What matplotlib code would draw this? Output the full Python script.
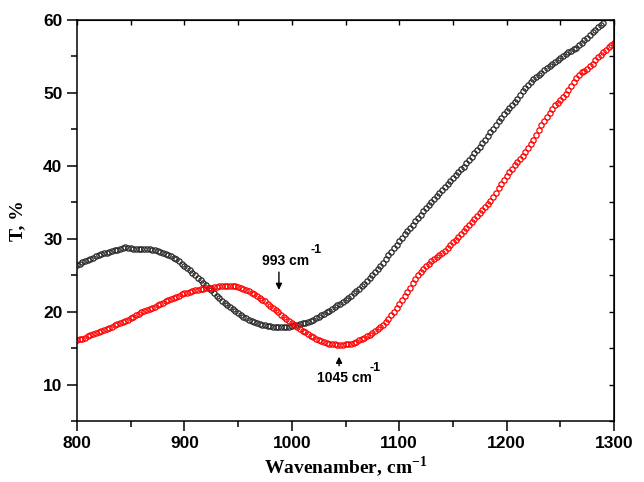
import numpy as np
import matplotlib
matplotlib.use('Agg')
import matplotlib.pyplot as plt
from matplotlib.ticker import MultipleLocator

plt.rcParams['font.family'] = 'Liberation Sans'
plt.rcParams['font.weight'] = 'bold'
plt.rcParams['mathtext.fontset'] = 'custom'
plt.rcParams['mathtext.bf'] = 'Liberation Serif:bold'
plt.rcParams['mathtext.rm'] = 'Liberation Serif:bold'

# black sample, 800-1290 step 2.5 (rows of 25 cm-1)
wn_black = np.arange(800, 1290.1, 2.5)
t_black = [26.4, 26.6, 26.8, 26.95, 27.1, 27.25, 27.4, 27.6, 27.8, 27.9,
           28.0, 28.1, 28.2, 28.3, 28.4, 28.5, 28.6, 28.7, 28.8, 28.75,
           28.7, 28.65, 28.6, 28.6, 28.6, 28.6, 28.6, 28.55, 28.5, 28.4,
           28.3, 28.2, 28.1, 27.95, 27.8, 27.6, 27.4, 27.15, 26.9, 26.6,
           26.3, 26.0, 25.7, 25.35, 25.0, 24.65, 24.3, 23.95, 23.6, 23.25,
           22.9, 22.55, 22.2, 21.85, 21.5, 21.2, 20.9, 20.6, 20.3, 20.05,
           19.8, 19.55, 19.3, 19.1, 18.9, 18.75, 18.6, 18.45, 18.3, 18.2,
           18.1, 18.05, 18.0, 17.95, 17.9, 17.9, 17.9, 17.9, 17.95, 17.95,
           18.0, 18.1, 18.2, 18.3, 18.4, 18.5, 18.6, 18.75, 18.9, 19.1,
           19.3, 19.5, 19.7, 19.9, 20.1, 20.35, 20.6, 20.85, 21.1, 21.35,
           21.6, 21.9, 22.2, 22.5, 22.8, 23.15, 23.5, 23.85, 24.2, 24.6,
           25.0, 25.4, 25.8, 26.25, 26.7, 27.2, 27.7, 28.2, 28.7, 29.2,
           29.7, 30.15, 30.6, 31.05, 31.5, 31.95, 32.4, 32.85, 33.3, 33.75,
           34.2, 34.65, 35.1, 35.5, 35.9, 36.3, 36.7, 37.1, 37.5, 37.9,
           38.3, 38.7, 39.1, 39.5, 39.9, 40.35, 40.8, 41.25, 41.7, 42.15,
           42.6, 43.1, 43.6, 44.1, 44.6, 45.1, 45.6, 46.1, 46.6, 47.05,
           47.5, 47.9, 48.3, 48.75, 49.2, 49.7, 50.2, 50.65, 51.1, 51.5,
           51.9, 52.15, 52.4, 52.75, 53.1, 53.4, 53.7, 53.95, 54.2, 54.5,
           54.8, 55.1, 55.4, 55.6, 55.8, 56.0, 56.2, 56.55, 56.9, 57.2,
           57.5, 57.9, 58.3, 58.65, 59.0, 59.3, 59.6]

# red sample, 800-1300 step 2.5
wn_red = np.arange(800, 1300.1, 2.5)
t_red = [16.1, 16.2, 16.3, 16.45, 16.6, 16.75, 16.9, 17.05, 17.2, 17.35,
         17.5, 17.65, 17.8, 17.95, 18.1, 18.25, 18.4, 18.55, 18.7, 18.9,
         19.1, 19.3, 19.5, 19.7, 19.9, 20.05, 20.2, 20.35, 20.5, 20.7,
         20.9, 21.05, 21.2, 21.4, 21.6, 21.75, 21.9, 22.05, 22.2, 22.35,
         22.5, 22.6, 22.7, 22.8, 22.9, 23.0, 23.1, 23.15, 23.2, 23.25,
         23.3, 23.35, 23.4, 23.45, 23.5, 23.5, 23.5, 23.5, 23.5, 23.45,
         23.4, 23.25, 23.1, 22.95, 22.8, 22.6, 22.4, 22.15, 21.9, 21.65,
         21.4, 21.1, 20.8, 20.5, 20.2, 19.9, 19.6, 19.3, 19.0, 18.7,
         18.4, 18.15, 17.9, 17.65, 17.4, 17.15, 16.9, 16.7, 16.5, 16.3,
         16.1, 15.95, 15.8, 15.7, 15.6, 15.55, 15.5, 15.45, 15.4, 15.45,
         15.5, 15.55, 15.6, 15.75, 15.9, 16.05, 16.2, 16.4, 16.6, 16.85,
         17.1, 17.35, 17.6, 17.9, 18.2, 18.6, 19.0, 19.5, 20.0, 20.5,
         21.0, 21.55, 22.1, 22.7, 23.3, 23.9, 24.5, 25.0, 25.5, 25.9,
         26.3, 26.6, 26.9, 27.2, 27.5, 27.75, 28.0, 28.35, 28.7, 29.1,
         29.5, 29.85, 30.2, 30.6, 31.0, 31.45, 31.9, 32.3, 32.7, 33.1,
         33.5, 33.9, 34.3, 34.75, 35.2, 35.75, 36.3, 36.9, 37.5, 38.05,
         38.6, 39.1, 39.6, 40.05, 40.5, 40.9, 41.3, 41.85, 42.4, 43.0,
         43.6, 44.25, 44.9, 45.55, 46.2, 46.75, 47.3, 47.8, 48.3, 48.65,
         49.0, 49.45, 49.9, 50.45, 51.0, 51.5, 52.0, 52.4, 52.8, 53.05,
         53.3, 53.65, 54.0, 54.45, 54.9, 55.25, 55.6, 55.95, 56.3, 56.55,
         56.8]

fig = plt.figure(figsize=(6.44, 4.82), dpi=100)
ax = fig.add_axes([0.1196, 0.1266, 0.8338, 0.8319])

ax.plot(wn_black, t_black, 'o', ms=3.8, mfc='none', mec='#2a2a2a', mew=0.9)
ax.plot(wn_red, t_red, 'o', ms=3.8, mfc='none', mec='red', mew=0.9)

ax.set_xlim(800, 1300)
ax.set_ylim(5, 60)
ax.xaxis.set_major_locator(MultipleLocator(100))
ax.xaxis.set_minor_locator(MultipleLocator(50))
ax.yaxis.set_major_locator(MultipleLocator(10))
ax.yaxis.set_minor_locator(MultipleLocator(5))
ax.tick_params(which='major', direction='out', length=7, width=1.1, labelsize=12.5)
ax.tick_params(which='minor', direction='out', length=4, width=1.1)
for s in ax.spines.values():
    s.set_linewidth(1.1)

top = ax.secondary_xaxis('top')
top.set_xticks(np.arange(800, 1301, 50))
top.tick_params(direction='in', length=3.5, width=1.0, labeltop=False)
right = ax.secondary_yaxis('right')
right.set_yticks(np.arange(5, 61, 5))
right.tick_params(direction='in', length=3.5, width=1.0, labelright=False)

ax.set_xlabel(r'Wavenamber, cm$^{\mathbf{-1}}$', family='Liberation Serif',
              fontweight='bold', fontsize=14, labelpad=3)
ax.set_ylabel('T, %', family='Liberation Serif', fontweight='bold',
              fontsize=14, labelpad=12)

# peak labels with raised superscripts
ax.annotate('', xy=(988, 22.6), xytext=(988, 25.8),
            arrowprops=dict(arrowstyle='-|>', color='black', lw=1.0,
                            mutation_scale=9))
ax.text(972, 26.4, '993 cm', fontsize=10, ha='left', va='baseline')
ax.text(1017, 28.0, '-1', fontsize=9, ha='left', va='baseline')
ax.annotate('', xy=(1044, 14.2), xytext=(1044, 12.2),
            arrowprops=dict(arrowstyle='-|>', color='black', lw=1.0,
                            mutation_scale=9))
ax.text(1023, 10.3, '1045 cm', fontsize=10, ha='left', va='baseline')
ax.text(1072, 11.9, '-1', fontsize=9, ha='left', va='baseline')

fig.savefig('out.png', dpi=100)
